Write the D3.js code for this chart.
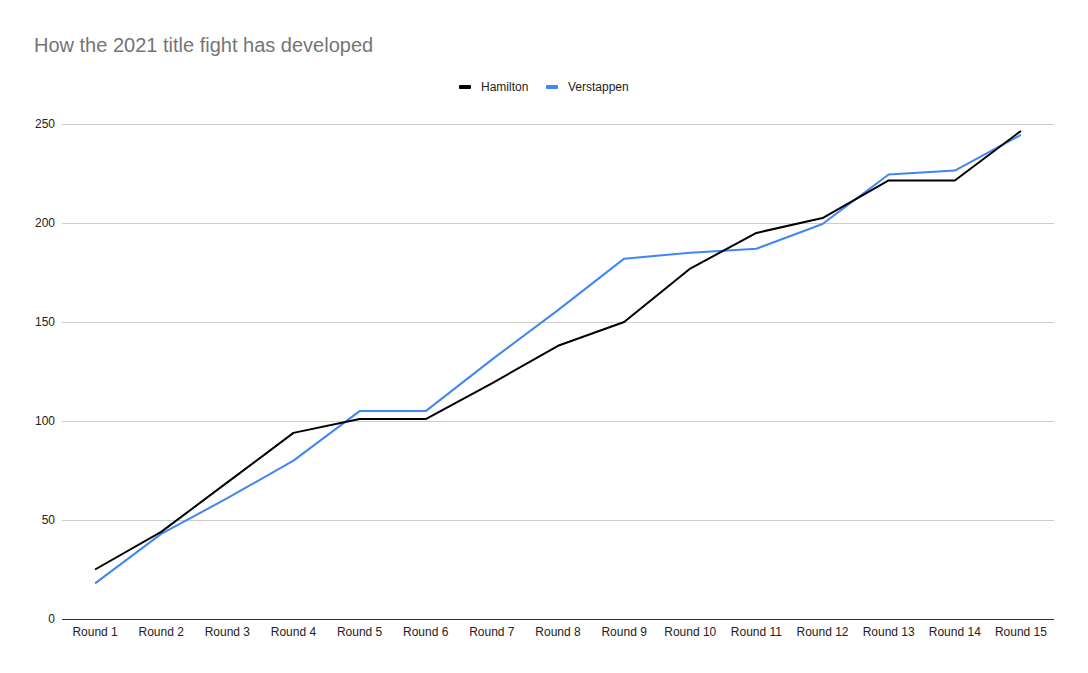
<!DOCTYPE html>
<html><head><meta charset="utf-8">
<script src="https://cdn.jsdelivr.net/npm/d3@7"></script>
<style>body{margin:0;background:#fff;}svg{display:block;font-family:"Liberation Sans",Arial,sans-serif;}</style>
</head><body>
<svg id="c" width="1088" height="673"></svg>
<script>
const rounds = ["Round 1","Round 2","Round 3","Round 4","Round 5","Round 6","Round 7","Round 8","Round 9","Round 10","Round 11","Round 12","Round 13","Round 14","Round 15"];
const hamilton = [25,44,69,94,101,101,119,138,150,177,195,202.5,221.5,221.5,246.5];
const verstappen = [18,43,61,80,105,105,131,156,182,185,187,199.5,224.5,226.5,244.5];
const yTicks = [0,50,100,150,200,250];
const seriesNames = ["Hamilton","Verstappen"];
const colors = ["#000000","#4285f4"];

const svg = d3.select("#c");
const L=62,R=1054,T=124,B=619;
const x = d3.scalePoint().domain(rounds).range([L,R]).padding(0.5);
const y = d3.scaleLinear().domain([0,250]).range([B,T]);

svg.append("text").attr("x",34).attr("y",52).attr("font-size",20).attr("fill","#757575").text("How the 2021 title fight has developed");

// grid
svg.append("g").selectAll("line").data(yTicks.filter(d=>d>0)).join("line")
  .attr("x1",L).attr("x2",R).attr("y1",d=>y(d)+0.5).attr("y2",d=>y(d)+0.5)
  .attr("stroke","#cccccc").attr("stroke-width",1);
svg.append("line").attr("x1",L).attr("x2",R).attr("y1",B+0.5).attr("y2",B+0.5).attr("stroke","#333").attr("stroke-width",1);

// y labels
svg.append("g").selectAll("text").data(yTicks).join("text")
  .attr("x",55).attr("y",d=>y(d)+4).attr("text-anchor","end").attr("font-size",12).attr("fill","#222").text(d=>d);
// x labels
svg.append("g").selectAll("text").data(rounds).join("text")
  .attr("x",d=>x(d)).attr("y",636).attr("text-anchor","middle").attr("font-size",12).attr("fill","#222").text(d=>d);

const line = d3.line().x((d,i)=>x(rounds[i])).y(d=>y(d));
[verstappen,hamilton].forEach((s,k)=>{
  const c = k===0?colors[1]:colors[0];
  svg.append("path").datum(s).attr("d",line).attr("fill","none").attr("stroke",c).attr("stroke-width",2).attr("stroke-linejoin","round");
});

// legend
const lg = [{n:seriesNames[0],c:colors[0],x:459},{n:seriesNames[1],c:colors[1],x:546}];
lg.forEach(d=>{
  svg.append("rect").attr("x",d.x).attr("y",85).attr("width",12).attr("height",4).attr("rx",1).attr("fill",d.c);
  svg.append("text").attr("x",d.x+22).attr("y",91).attr("font-size",12).attr("fill","#222").text(d.n);
});
</script>
</body></html>
